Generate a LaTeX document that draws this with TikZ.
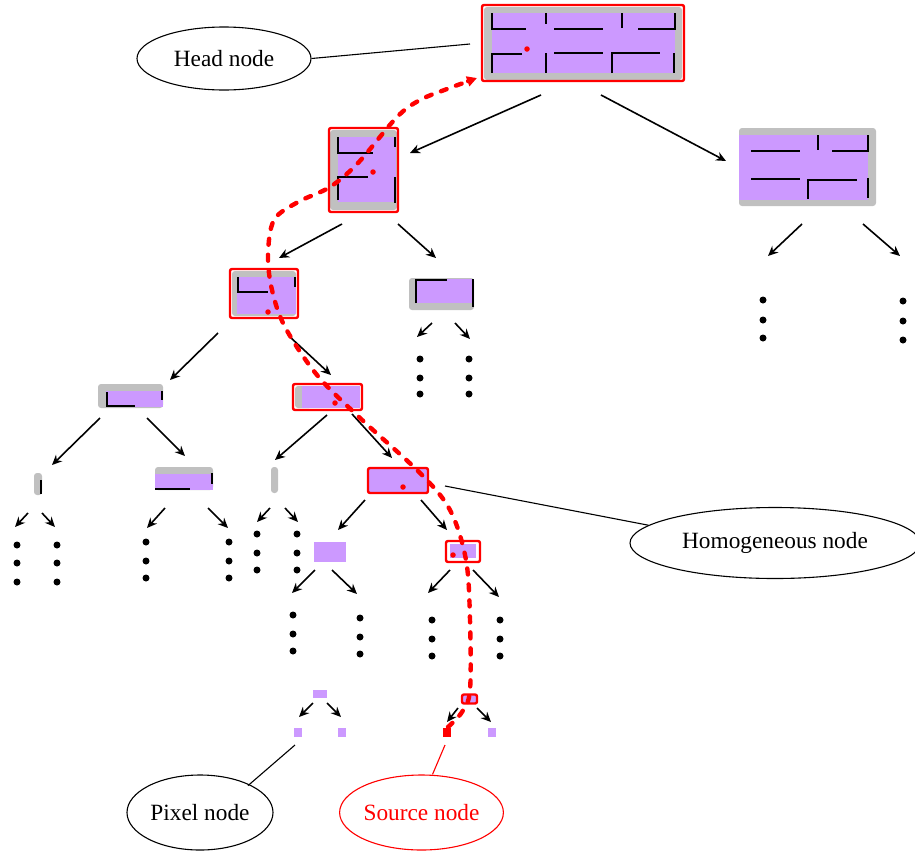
\documentclass[tikz,border=0pt]{standalone}
\usepackage{fontspec}
\setmainfont{Liberation Serif}
\usetikzlibrary{arrows.meta,shapes.geometric}
\definecolor{pur}{RGB}{204,153,255}
\definecolor{gfr}{RGB}{192,192,192}
\begin{document}
\begin{tikzpicture}[x=1pt,y=-1pt,
  wall/.style={line width=2.2pt},
  gframe/.style={fill=gfr, rounded corners=3pt},
  redbox/.style={draw=red, line width=2.4pt, rounded corners=2pt},
  arr/.style={line width=1.6pt, -{Stealth[length=10pt,width=9pt]}},
  dotc/.style={circle, fill=black, inner sep=0pt, minimum size=7pt},
  rdot/.style={circle, fill=red, inner sep=0pt, minimum size=5.5pt},
  lab/.style={ellipse, draw, line width=1.1pt, inner sep=0pt, font=\fontsize{23.3}{28}\selectfont},
  path/.style={draw=red, line width=4.4pt, line cap=round, dash pattern=on 6pt off 10pt}]
\useasboundingbox (0,0) rectangle (915,852);

% ---------- head node ----------
\fill[gframe] (484,7) rectangle (682,80);
\fill[pur] (492,13) rectangle (675,73);
\draw[wall] (492,13) -- (492,29) -- (526,29);
\draw[wall] (546,13) -- (546,24);
\draw[wall] (554,29) -- (603,29);
\draw[wall] (622,13) -- (622,28);
\draw[wall] (638,29) -- (675,29) -- (675,13);
\draw[wall] (522,54) -- (492,54) -- (492,73);
\draw[wall] (546,53) -- (546,73);
\draw[wall] (554,53) -- (603,53);
\draw[wall] (612,73) -- (612,53) -- (660,53);
\draw[wall] (674,53) -- (674,73);
\node[rdot] (hd) at (527,49) {};
\node[redbox, inner sep=0pt, minimum width=202pt, minimum height=76pt] (H) at (583,43) {};

% ---------- level 1 left ----------
\fill[gframe] (330,130) rectangle (397,210);
\fill[pur] (338,137) rectangle (396,202);
\draw[wall] (338,137) -- (338,153) -- (373,153);
\draw[wall] (395,137) -- (395,147);
\draw[wall] (338,200) -- (338,177) -- (368,177);
\draw[wall] (395,177) -- (395,203);
\node[rdot] at (373,172) {};
\node[redbox, inner sep=0pt, minimum width=69pt, minimum height=84pt] (L1a) at (363.5,170) {};

% ---------- level 1 right ----------
\fill[gframe] (739,128) rectangle (876,206);
\fill[pur] (739,135) rectangle (868,200);
\draw[wall] (751,151) -- (800,151);
\draw[wall] (818,135) -- (818,150);
\draw[wall] (832,151) -- (868,151) -- (868,135);
\draw[wall] (751,179) -- (800,179);
\draw[wall] (808,199) -- (808,180) -- (857,180);
\draw[wall] (868,178) -- (868,198);
\coordinate (L1b) at (807,167);

% ---------- level 2 left ----------
\fill[gframe] (232,271) rectangle (296,316);
\fill[pur] (237,277) rectangle (296,314);
\draw[wall] (238,277) -- (238,292) -- (268,292);
\draw[wall] (295,277) -- (295,287);
\node[rdot] at (268,312) {};
\node[redbox, inner sep=0pt, minimum width=68pt, minimum height=49pt] (L2a) at (264,293.5) {};

% ---------- level 2 right ----------
\fill[gframe] (409,278) rectangle (474,310);
\fill[pur] (416,279) rectangle (472,303);
\draw[wall] (416,303) -- (416,280) -- (447,280);
\draw[wall] (473,279) -- (473,307);
\coordinate (L2b) at (441,294);

% ---------- level 3 left ----------
\fill[gframe] (98,384) rectangle (163,408);
\fill[pur] (106,391) rectangle (163,407);
\draw[wall] (107,392) -- (107,406) -- (135,406);
\draw[wall] (162,391) -- (162,400);
\coordinate (L3a) at (130,396);

% ---------- level 3 right ----------
\fill[gframe] (295,386) rectangle (312,408);
\fill[pur] (302,386) rectangle (360,408);
\node[rdot] at (335,403) {};
\node[redbox, inner sep=0pt, minimum width=69pt, minimum height=26pt] (L3b) at (327.5,397) {};

% ---------- level 4 ----------
\fill[gframe] (34,473) rectangle (42,495);
\draw[wall] (41,480) -- (41,494);
\coordinate (L4a) at (38,484);

\fill[gframe] (155,467) rectangle (213,490);
\fill[pur] (155,474) rectangle (213,490);
\draw[wall] (155,489) -- (190,489);
\draw[wall] (212,473) -- (212,484);
\coordinate (L4b) at (184,478);

\fill[gframe] (271,467) rectangle (278,493);
\coordinate (L4c) at (275,480);

\fill[pur] (369,469) rectangle (427,492);
\node[rdot] at (403,487) {};
\node[redbox, inner sep=0pt, minimum width=60pt, minimum height=25pt] (L4d) at (398,480.5) {};

% ---------- level 5 ----------
\fill[pur] (314,542) rectangle (346,562);
\coordinate (L5a) at (330,552);
\fill[pur] (450,544) rectangle (476,558);
\node[rdot] at (453,555) {};
\node[redbox, inner sep=0pt, minimum width=34pt, minimum height=21pt] (L5b) at (463,551.5) {};

% ---------- pixel level ----------
\fill[pur] (313,690) rectangle (327,698);
\coordinate (P) at (320,694);
\fill[pur] (294,728) rectangle (302,737);
\coordinate (Pa) at (298,732);
\fill[pur] (338,728) rectangle (346,737);
\coordinate (Pb) at (342,732);

\fill[pur] (463,695) rectangle (476,703);
\node[redbox, inner sep=0pt, minimum width=15pt, minimum height=9pt] (R) at (469.5,699) {};
\fill[red] (443,728) rectangle (451,737);
\coordinate (S) at (447,732);
\fill[pur] (488,728) rectangle (496,737);
\coordinate (Rb) at (492,732);

% ---------- arrows ----------
\draw[arr] (541,95) -- (410,153);
\draw[arr] (601,95) -- (726,161);
\draw[arr] (342,224) -- (279,258);
\draw[arr] (398,224) -- (436,258);
\draw[arr] (802,224) -- (768,256);
\draw[arr] (863,224) -- (900,256);
\draw[arr] (218,333) -- (170,380);
\draw[arr] (290,337) -- (331,375);
\draw[arr] (432,323) -- (417,337);
\draw[arr] (455,323) -- (470,339);
\draw[arr] (100,418) -- (52,465);
\draw[arr] (147,418) -- (185,456);
\draw[arr] (327,415) -- (275,460);
\draw[arr] (352,414) -- (392,458);
\draw[arr] (28,513) -- (15,527);
\draw[arr] (42,513) -- (55,527);
\draw[arr] (165,508) -- (147,528);
\draw[arr] (208,508) -- (228,528);
\draw[arr] (270,508) -- (257,522);
\draw[arr] (285,508) -- (298,522);
\draw[arr] (365,500) -- (338,530);
\draw[arr] (421,500) -- (447,530);
\draw[arr] (315,570) -- (292,593);
\draw[arr] (332,570) -- (357,594);
\draw[arr] (450,570) -- (428,593);
\draw[arr] (473,570) -- (499,597);
\draw[arr] (313,703) -- (299,717);
\draw[arr] (327,703) -- (341,717);
\draw[arr] (458,708) -- (447,722);
\draw[arr] (477,708) -- (491,722);

% ---------- dots ----------
\foreach \x/\a/\b/\c in {763/300/320/338, 903/301/321/340, 420/359/378/394, 469/359/378/394,
  17/545/563/582, 57/545/563/582, 146/542/561/578, 229/542/561/578,
  257/534/553/570, 297/534/553/570, 293/615/634/651, 360/618/637/654,
  432/620/639/656, 500/620/639/656}
  {\node[dotc] at (\x,\a) {}; \node[dotc] at (\x,\b) {}; \node[dotc] at (\x,\c) {};}

% ---------- search path ----------
\draw[path, -{Triangle[length=10pt,width=10pt,fill=red,line cap=butt]}] plot[smooth, tension=0.55] coordinates {
  (448,727) (462,712) (470,690) (470,620) (466,560) (450,510) (420,473) (360,418) (317,375)
  (285,327) (272,290) (268,255) (274,220) (298,202) (330,187) (358,163) (397,117) (420,100) (447,89) (477,78)};

% ---------- labels ----------
\node[lab, minimum width=174pt, minimum height=63pt] (hl) at (224,58.5) {Head node};
\draw[line width=1.1pt] (hl.east) -- (470,44);
\node[lab, minimum width=290pt, minimum height=71pt] (gl) at (775,543) {Homogeneous node};
\draw[line width=1.1pt] (445,486) -- (gl.172);
\node[lab, minimum width=146pt, minimum height=75pt] (pl) at (200,812.5) {Pixel node};
\draw[line width=1.1pt] (pl.north east) ++(-4,0) -- (295,745);
\node[lab, draw=red, text=red, minimum width=143pt, minimum height=75pt] (sl) at (421.5,812.5) {Source node};
\draw[red, line width=1.1pt] (sl.north) ++(11,0) -- (445,745);
\end{tikzpicture}
\end{document}
